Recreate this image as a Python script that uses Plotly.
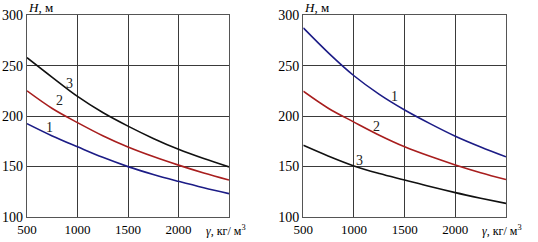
import plotly.graph_objects as go

x = [500, 750, 1000, 1250, 1500, 1750, 2000, 2250, 2500]

# Left panel
left_1 = [192.5, 180.3, 169.5, 159, 149.8, 142, 135.2, 128.8, 123]
left_2 = [225, 207.5, 193.5, 180.5, 169.3, 159.8, 151.3, 143.5, 136.5]
left_3 = [258, 238.5, 219.5, 203.5, 190, 177.8, 167, 157.8, 149.5]

# Right panel
right_1 = [287.5, 262.5, 240, 221.5, 206, 192.5, 180, 169.3, 159.5]
right_2 = [224.6, 207.5, 194, 181, 169.5, 160, 151.5, 143.8, 137]
right_3 = [171, 160.2, 150.5, 143, 136.5, 130, 124, 118.5, 113.3]

x_ticks = [500, 1000, 1500, 2000]
y_ticks = [100, 150, 200, 250, 300]

BLUE = "#1c1c86"
RED = "#a81e1e"
BLACK = "#111111"
FONT = "Liberation Serif, Times New Roman, serif"

W, H = 538, 242


def fx(s):
    return s / W


def fy(s):
    return 1 - s / H


fig = go.Figure()


def add(xs, ys, color, axis):
    fig.add_trace(go.Scatter(x=xs, y=ys, mode="lines",
                             line=dict(color=color, width=1.6, shape="spline"),
                             xaxis="x" + axis, yaxis="y" + axis,
                             showlegend=False, hoverinfo="skip"))


add(x, left_1, BLUE, "")
add(x, left_2, RED, "")
add(x, left_3, BLACK, "")
add(x, right_1, BLUE, "2")
add(x, right_2, RED, "2")
add(x, right_3, BLACK, "2")

ax_common = dict(showgrid=True, gridcolor="#3a3a3a", gridwidth=1,
                 showline=True, linecolor="#555555", linewidth=1.3, mirror=True,
                 zeroline=False, ticks="", automargin=False)

yd = [fy(216.8), fy(15.3)]
fig.update_layout(
    width=W, height=H,
    margin=dict(l=0, r=0, t=0, b=0),
    paper_bgcolor="white", plot_bgcolor="white",
    xaxis=dict(domain=[fx(27), fx(229)], range=[500, 2500], tickvals=x_ticks,
               tickfont=dict(family=FONT, size=13, color="black"), anchor="y", **ax_common),
    yaxis=dict(domain=yd, range=[100, 300], tickvals=y_ticks,
               tickfont=dict(family=FONT, size=14, color="black"), anchor="x", **ax_common),
    xaxis2=dict(domain=[fx(303.3), fx(506)], range=[500, 2500], tickvals=x_ticks,
                tickfont=dict(family=FONT, size=13, color="black"), anchor="y2", **ax_common),
    yaxis2=dict(domain=yd, range=[100, 300], tickvals=y_ticks,
                tickfont=dict(family=FONT, size=14, color="black"), anchor="x2", **ax_common),
)


def lab(text, xx, yy, axis):
    fig.add_annotation(text=text, x=xx, y=yy, xref="x" + axis, yref="y" + axis,
                       showarrow=False, font=dict(family=FONT, size=14, color="#222"))


lab("1", 720, 189, "")
lab("2", 820, 215.5, "")
lab("3", 916, 232, "")
lab("1", 1402, 219.6, "2")
lab("2", 1220, 190, "2")
lab("3", 1056, 156, "2")


def screen_text(text, sx, sy, size=13):
    fig.add_annotation(text=text, x=fx(sx), y=fy(sy), xref="paper", yref="paper",
                       xanchor="left", yanchor="middle", showarrow=False,
                       font=dict(family=FONT, size=size, color="black"))


screen_text("<i>H</i>, м", 26, 7)
screen_text("<i>H</i>, м", 302, 7)
screen_text("<i>γ</i>, кг/ м<sup>3</sup>", 204, 230, size=12)
screen_text("<i>γ</i>, кг/ м<sup>3</sup>", 480, 230, size=12)

fig.write_html("out.html", config={"displayModeBar": False},
               post_script="document.body.style.margin='0';")
